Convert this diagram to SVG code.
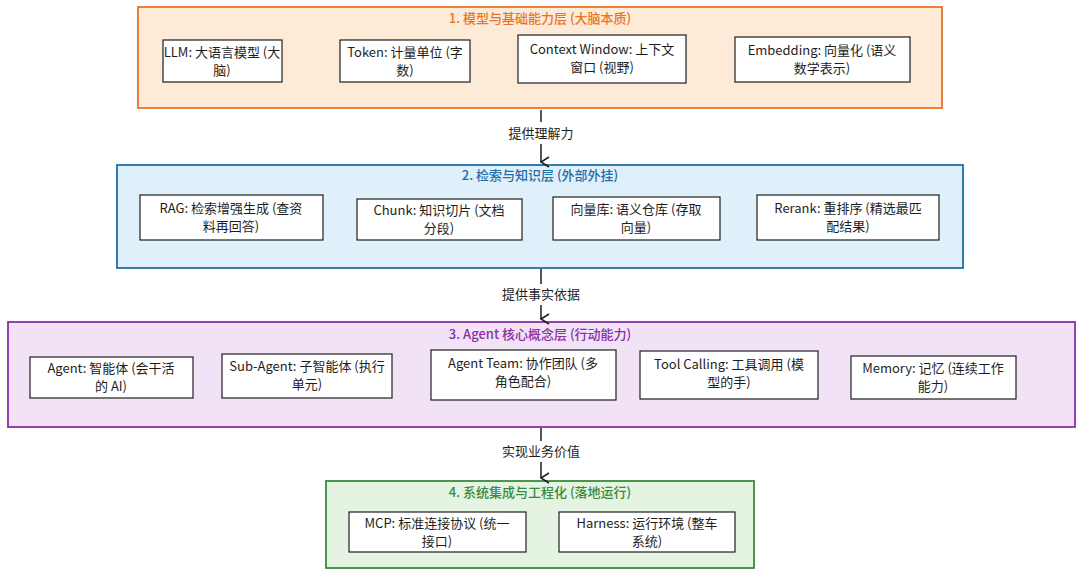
<svg xmlns="http://www.w3.org/2000/svg" width="1080" height="577" viewBox="0 0 1080 577">
<style>
text{font-family:"Noto Sans CJK SC","Noto Sans",sans-serif;font-size:13px;fill:#1e1e1e;text-anchor:middle}
.t{font-size:13px;font-weight:500}
.b{fill:#fff;stroke:#1e1e1e;stroke-width:1.2}
.c{stroke:#1e1e1e;stroke-width:1.5;fill:none}
</style>
<defs><marker id="a" markerWidth="12" markerHeight="12" refX="6" refY="10" orient="auto" markerUnits="userSpaceOnUse"><path d="M1,2 L6,10 L11,2" fill="none" stroke="#1e1e1e" stroke-width="1.5"/></marker></defs>
<rect width="1080" height="577" fill="#fff"/>
<g id="L1"><rect x="138" y="7" width="804" height="101" fill="#fdebd8" stroke="#e8742a" stroke-width="1.8"/>
<text class="t" x="540" y="23" style="fill:#e8742a">1. 模型与基础能力层 (大脑本质)</text></g>
<g id="n1"><rect class="b" x="163" y="40" width="119" height="42"/><text x="222" y="57">LLM: 大语言模型 (大</text><text x="222" y="75">脑)</text></g>
<g id="n2"><rect class="b" x="340" y="40" width="130" height="42"/><text x="405" y="57">Token: 计量单位 (字</text><text x="405" y="75">数)</text></g>
<g id="n3"><rect class="b" x="518" y="35" width="168" height="48"/><text x="602" y="54">Context Window: 上下文</text><text x="602" y="72">窗口 (视野)</text></g>
<g id="n4"><rect class="b" x="735" y="37" width="175" height="45"/><text x="822" y="55">Embedding: 向量化 (语义</text><text x="822" y="73">数学表示)</text></g>
<g id="L2"><rect x="117" y="165" width="846" height="103" fill="#dff0fa" stroke="#1f6fa8" stroke-width="1.8"/>
<text class="t" x="540" y="180" style="fill:#1f6fa8">2. 检索与知识层 (外部外挂)</text></g>
<g id="n5"><rect class="b" x="140" y="195" width="183" height="45"/><text x="231" y="213">RAG: 检索增强生成 (查资</text><text x="231" y="231">料再回答)</text></g>
<g id="n6"><rect class="b" x="357" y="199" width="165" height="41"/><text x="439" y="215">Chunk: 知识切片 (文档</text><text x="439" y="233">分段)</text></g>
<g id="n7"><rect class="b" x="553" y="197" width="167" height="43"/><text x="636" y="214">向量库: 语义仓库 (存取</text><text x="636" y="232">向量)</text></g>
<g id="n8"><rect class="b" x="757" y="195" width="182" height="45"/><text x="848" y="213">Rerank: 重排序 (精选最匹</text><text x="848" y="231">配结果)</text></g>
<g id="L3"><rect x="8" y="322" width="1067" height="105" fill="#f1e3f5" stroke="#8a2fa8" stroke-width="1.8"/>
<text class="t" x="540" y="339" style="fill:#8a2fa8">3. Agent 核心概念层 (行动能力)</text></g>
<g id="n9"><rect class="b" x="30" y="357" width="163" height="41"/><text x="111" y="373">Agent: 智能体 (会干活</text><text x="111" y="391">的 AI)</text></g>
<g id="n10"><rect class="b" x="222" y="354" width="170" height="44"/><text x="307" y="371">Sub-Agent: 子智能体 (执行</text><text x="307" y="389">单元)</text></g>
<g id="n11"><rect class="b" x="431" y="350" width="185" height="50"/><text x="523" y="368">Agent Team: 协作团队 (多</text><text x="523" y="386">角色配合)</text></g>
<g id="n12"><rect class="b" x="640" y="351" width="178" height="48"/><text x="729" y="369">Tool Calling: 工具调用 (模</text><text x="729" y="387">型的手)</text></g>
<g id="n13"><rect class="b" x="851" y="356" width="165" height="43"/><text x="933" y="373">Memory: 记忆 (连续工作</text><text x="933" y="391">能力)</text></g>
<g id="L4"><rect x="326" y="481" width="428" height="87" fill="#e5f3e2" stroke="#3a8a3a" stroke-width="1.8"/>
<text class="t" x="540" y="497" style="fill:#3a8a3a">4. 系统集成与工程化 (落地运行)</text></g>
<g id="n14"><rect class="b" x="349" y="512" width="177" height="40"/><text x="437" y="528">MCP: 标准连接协议 (统一</text><text x="437" y="546">接口)</text></g>
<g id="n15"><rect class="b" x="559" y="512" width="176" height="40"/><text x="647" y="528">Harness: 运行环境 (整车</text><text x="647" y="546">系统)</text></g>
<g id="edges">
<path class="c" d="M541,110 V122 M541,144 V162" marker-end="url(#a)"/>
<text x="541" y="138">提供理解力</text>
<path class="c" d="M541,269 V284 M541,305 V319" marker-end="url(#a)"/>
<text x="541" y="299">提供事实依据</text>
<path class="c" d="M541,428 V441 M541,462 V478" marker-end="url(#a)"/>
<text x="541" y="456">实现业务价值</text>
</g>
</svg>
